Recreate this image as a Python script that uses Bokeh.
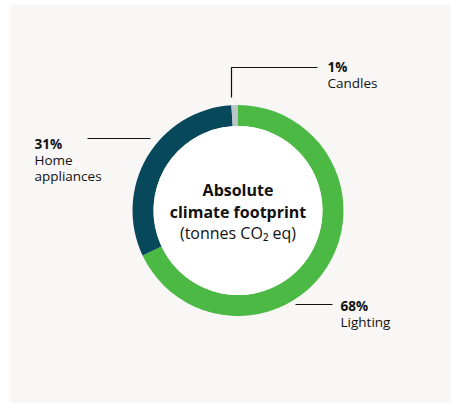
import numpy as np
from bokeh.plotting import figure
from bokeh.models import Range1d, ColumnDataSource
from bokeh.core.properties import value
from bokeh.embed import file_html
from bokeh.resources import INLINE

categories = ["Lighting", "Home appliances", "Candles"]
shares = [68, 31, 1]
pct_labels = ["68%", "31%", "1%"]
colors = ["#4cb944", "#07495b", "#b9c5c6"]

W, H = 451, 403
L, T = 9, 4
FW, FH = W - L, H - T
BG = "#f8f7f5"
FONT = "Open Sans"

p = figure(width=W, height=H, output_backend="svg", toolbar_location=None,
           x_range=Range1d(0, FW), y_range=Range1d(0, FH),
           min_border_left=L, min_border_top=T, min_border_right=0, min_border_bottom=0)
p.axis.visible = False
p.grid.visible = False
p.outline_line_color = None
p.background_fill_color = BG
p.border_fill_color = "white"

def sx(x):
    return x - L

def sy(y):
    return FH - (y - T)

cx, cy = sx(237.5), sy(210)
r_out, r_in = 105.5, 84.5

vals = np.array(shares, dtype=float)
frac = vals / vals.sum()
cum = np.concatenate([[0], np.cumsum(frac)])
start = np.pi / 2 - cum[:-1] * 2 * np.pi
end = np.pi / 2 - cum[1:] * 2 * np.pi

src = ColumnDataSource(dict(start=start, end=end, color=colors, cat=categories))
p.annular_wedge(x=cx, y=cy, inner_radius=r_in, outer_radius=r_out,
                start_angle="start", end_angle="end", direction="clock",
                fill_color="color", line_color=None, source=src)
p.circle(x=cx, y=cy, radius=r_in, fill_color="white", line_color=None)

# Center title
p.text(x=[cx, cx], y=[sy(189), sy(211)], text=["Absolute", "climate footprint"],
       text_font=value(FONT), text_font_style="bold", text_font_size="16px",
       text_align="center", text_baseline="middle", text_color="#111111")
p.text(x=[cx], y=[sy(232)], text=["(tonnes CO\u2082 eq)"],
       text_font=value(FONT), text_font_size="16px",
       text_align="center", text_baseline="middle", text_color="#111111")

# Leader lines
p.line(x=[sx(231), sx(231), sx(317)], y=[sy(97), sy(67), sy(67)], line_color="#111111", line_width=1.2)
p.line(x=[sx(87), sx(150)], y=[sy(138), sy(138)], line_color="#111111", line_width=1.2)
p.line(x=[sx(295), sx(332)], y=[sy(304), sy(304)], line_color="#111111", line_width=1.2)

# Labels
lab_x = [sx(340), sx(34), sx(327)]
pct_y = [sy(305), sy(143), sy(66)]
p.text(x=lab_x, y=pct_y, text=pct_labels, text_font=value(FONT), text_font_style="bold",
       text_font_size="13.5px", text_align="left", text_baseline="middle", text_color="#111111")
name_lines = [["Lighting"], ["Home", "appliances"], ["Candles"]]
nx, ny, nt = [], [], []
for i, lines in enumerate(name_lines):
    for j, t in enumerate(lines):
        nx.append(lab_x[i])
        ny.append(pct_y[i] - 16 * (j + 1))
        nt.append(t)
p.text(x=nx, y=ny, text=nt, text_font=value(FONT), text_font_size="13.5px",
       text_align="left", text_baseline="middle", text_color="#111111")

open("out.html", "w").write(file_html(p, INLINE))
